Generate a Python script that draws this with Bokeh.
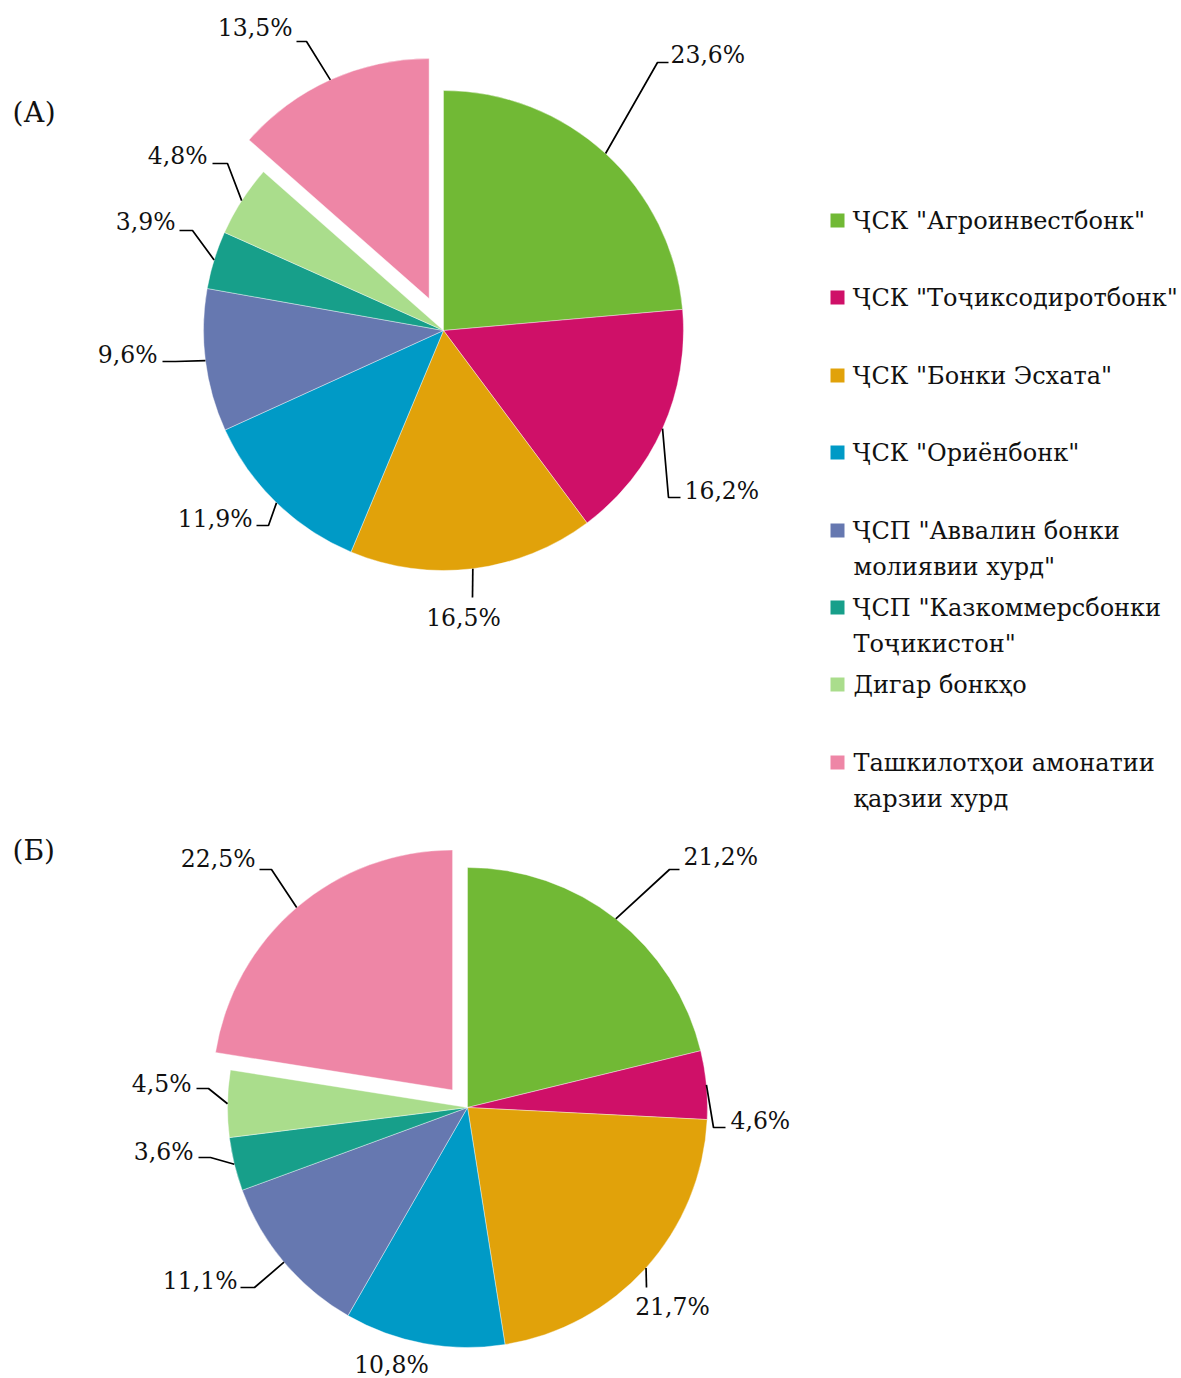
import numpy as np
from bokeh.plotting import figure
from bokeh.models import ColumnDataSource, Range1d
from bokeh.core.properties import value
from bokeh.embed import file_html
from bokeh.resources import INLINE

# ---------------- data ----------------
categories = [
    'ҶСК "Агроинвестбонк"',
    'ҶСК "Тоҷиксодиротбонк"',
    'ҶСК "Бонки Эсхата"',
    'ҶСК "Ориёнбонк"',
    'ҶСП "Аввалин бонки\nмолиявии хурд"',
    'ҶСП "Казкоммерсбонки\nТоҷикистон"',
    'Дигар бонкҳо',
    'Ташкилотҳои амонатии\nқарзии хурд',
]
share_A = [23.6, 16.2, 16.5, 11.9, 9.6, 3.9, 4.8, 13.5]
share_B = [21.2, 4.6, 21.7, 10.8, 11.1, 3.6, 4.5, 22.5]
colors = ["#71B935", "#CF1068", "#E1A20A", "#009AC6",
          "#6678B0", "#179F8A", "#AADD8C", "#EE86A6"]
pie_titles = ["(А)", "(Б)"]

# ---------------- layout (screen pixel coordinates) ----------------
W, H = 1181, 1378
def X(xs): return np.asarray(xs, dtype=float)
def Y(ys): return H - np.asarray(ys, dtype=float)

R = 240
NUM_FONT = "DejaVu Serif"
LEG_FONT = "DejaVu Serif"

# per label: (elbow_x, elbow_y, end_x, text_x, text_y, align) ; None elbow = no leader
layout_A = dict(center=(443, 330), explode=[0, 0, 0, 0, 0, 0, 0, 35], labels=[
    (657, 62, 668, 670, 54, "left"),
    (668, 497, 680, 684, 490, "left"),
    (472, 597, 472, 463, 617, "center"),
    (268, 525, 256, 252, 518, "right"),
    (175, 361, 162, 157, 354, "right"),
    (192, 230, 179, 175, 221, "right"),
    (227, 163, 212, 207, 155, "right"),
    (306, 41, 296, 292, 27, "right"),
])
layout_B = dict(center=(467, 1107), explode=[0, 0, 0, 0, 0, 0, 0, 23], labels=[
    (669, 869, 679, 683, 856, "left"),
    (713, 1127, 725, 730, 1120, "left"),
    (646, 1287, 646, 672, 1306, "center"),
    (None, None, None, 391, 1364, "center"),
    (254, 1287, 240, 237, 1280, "right"),
    (210, 1157, 198, 193, 1151, "right"),
    (208, 1088, 196, 191, 1083, "right"),
    (271, 869, 259, 255, 858, "right"),
])

p = figure(width=W, height=H, output_backend="svg", toolbar_location=None,
           x_range=Range1d(0, W), y_range=Range1d(0, H), min_border=0)
p.axis.visible = False
p.grid.visible = False
p.outline_line_color = None
p.background_fill_color = "white"


def draw_pie(vals, lay):
    vals = np.asarray(vals, dtype=float)
    frac = vals / vals.sum()
    cum = np.concatenate([[0.0], np.cumsum(frac)])
    start = np.pi / 2 - 2 * np.pi * cum[1:]
    end = np.pi / 2 - 2 * np.pi * cum[:-1]
    mid = np.pi / 2 - 2 * np.pi * (cum[:-1] + cum[1:]) / 2
    ex = np.asarray(lay["explode"], dtype=float)
    cx = X(lay["center"][0]) + ex * np.cos(mid)
    cy = Y(lay["center"][1]) + ex * np.sin(mid)
    src = ColumnDataSource(dict(x=cx, y=cy, s=start, e=end, c=colors))
    p.wedge(x="x", y="y", radius=R, start_angle="s", end_angle="e",
            fill_color="c", line_color="white", line_width=0.4, source=src)

    ax = cx + R * np.cos(mid)
    ay = cy + R * np.sin(mid)
    lxs, lys = [], []
    groups = {}
    for i, (elx, ely, endx, tx, ty, al) in enumerate(lay["labels"]):
        if elx is not None:
            lxs.append([ax[i], float(X(elx)), float(X(endx))])
            lys.append([ay[i], float(Y(ely)), float(Y(ely))])
        g = groups.setdefault(al, dict(x=[], y=[], t=[]))
        g["x"].append(float(X(tx)))
        g["y"].append(float(Y(ty)))
        g["t"].append(f"{vals[i]:.1f}".replace(".", ",") + "%")
    p.multi_line(xs=lxs, ys=lys, line_color="black", line_width=1.7)
    for al, g in groups.items():
        p.text(x=g["x"], y=g["y"], text=g["t"], text_align=al,
               text_baseline="middle", text_font=value(NUM_FONT),
               text_font_size="23.5px", text_color="#111111")


draw_pie(share_A, layout_A)
draw_pie(share_B, layout_B)

# pie titles
p.text(x=X([12, 12]), y=Y([112, 850]), text=pie_titles, text_align="left",
       text_baseline="middle", text_font=value(LEG_FONT),
       text_font_size="28px", text_color="#111111")

# legend
leg_rows = [220, 297, 375, 452, 530, 607, 684, 762]
line_gap = 36
p.scatter(x=X([837] * len(categories)), y=Y(leg_rows), marker="square",
          size=14, fill_color=colors, line_color=None)
tx, ty, tt = [], [], []
for row, cat in zip(leg_rows, categories):
    for k, line in enumerate(cat.split("\n")):
        tx.append(float(X(853)))
        ty.append(float(Y(row + k * line_gap)))
        tt.append(line)
p.text(x=tx, y=ty, text=tt, text_align="left", text_baseline="middle",
       text_font=value(LEG_FONT), text_font_size="24px", text_color="#111111")

open("out.html", "w").write(file_html(p, INLINE))
